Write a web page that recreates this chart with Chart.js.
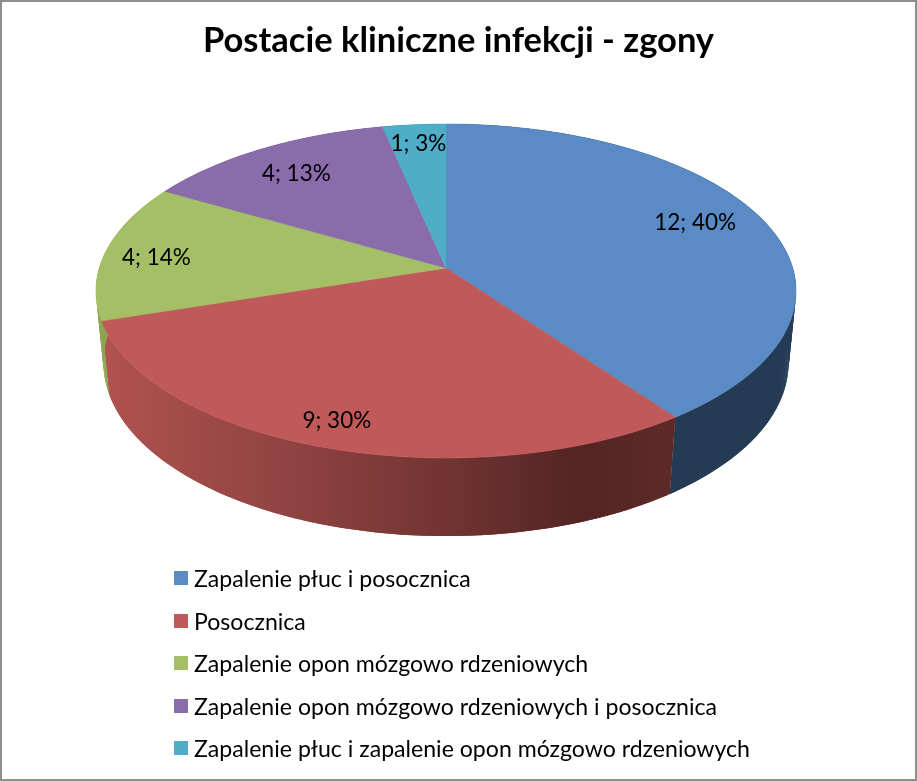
<!DOCTYPE html>
<html lang="pl">
<head>
<meta charset="utf-8">
<title>Postacie kliniczne infekcji - zgony</title>
<script src="https://cdn.jsdelivr.net/npm/chart.js@4"></script>
<style>
    html, body { margin: 0; padding: 0; background: #fff; }
    #wrap { position: relative; width: 917px; height: 781px; overflow: hidden; box-shadow: inset 0 0 0 2px #8e8e8e; }
    #chart { position: absolute; left: 0; top: 0; }
    #legend { position: absolute; left: 174px; top: 557px; margin: 0; padding: 0; list-style: none; font: 23.1px Lato, sans-serif; color: #000; }
    #legend li { display: flex; align-items: center; height: 42.5px; white-space: nowrap; }
    #legend i { width: 14px; height: 14px; margin-right: 6px; flex: none; }
</style>
</head>
<body>
<div id="wrap">
    <canvas id="chart" width="917" height="781"></canvas>
    <ul id="legend"></ul>
</div>
<script>
const titleText = 'Postacie kliniczne infekcji - zgony';
const categories = [
    'Zapalenie płuc i posocznica',
    'Posocznica',
    'Zapalenie opon mózgowo rdzeniowych',
    'Zapalenie opon mózgowo rdzeniowych i posocznica',
    'Zapalenie płuc i zapalenie opon mózgowo rdzeniowych'
];
const deaths = [12, 9, 4, 4, 1];
const percents = [40, 30, 14, 13, 3];

const topColors = ['#5b8bc4', '#c0595a', '#a4bf66', '#8a6cab', '#4fadc8'];
const wallStops = [
    [[0, '#243a55'], [1, '#243a55']],
    [[0, '#b0524f'], [0.35, '#8d4240'], [0.62, '#6f3331'], [0.84, '#532422'], [1, '#5e2a27']],
    [[0, '#8ba550'], [1, '#8ba550']],
    [[0, '#6a5285'], [1, '#6a5285']],
    [[0, '#3b8499'], [1, '#3b8499']]
];

// the office 3d pie has real perspective, so project the library's arc angles by hand
const view = { x: 446, y: 268, ax: 346.7, ay: 126.9, c: -0.1377, e: 0.0214, depth: 78.8 };
const labelRadius = [0.8, 0.87, 0.85, 0.8, 0.85];
const labelNudge = [[-6, -6], [-4, 0], [0, 4], [0, 3], [0, 0]];

function project(angle, r, w) {
    const u = Math.cos(angle) * r;
    const v = Math.sin(angle) * r;
    const d = 1 + view.c * v + view.e * w;
    return {
        x: view.x + view.ax * u / d,
        y: (view.y + view.ay * v + view.depth * w) / d
    };
}

function tracePoints(ctx, pts) {
    ctx.beginPath();
    pts.forEach((p, i) => i ? ctx.lineTo(p.x, p.y) : ctx.moveTo(p.x, p.y));
    ctx.closePath();
}

function rim(start, end, w) {
    const steps = Math.max(2, Math.ceil((end - start) / 0.01));
    const pts = [];
    for (let i = 0; i <= steps; i++) {
        pts.push(project(start + (end - start) * i / steps, 1, w));
    }
    return pts;
}

const pie3d = {
    id: 'pie3d',
    beforeDatasetsDraw(chart) {
        const ctx = chart.ctx;
        const arcs = chart.getDatasetMeta(0).data;

        // walls first as overlapping strips, so the silhouette follows the tangent between the two rims
        arcs.forEach((arc, i) => {
            const upper = rim(arc.startAngle, arc.endAngle, 0);
            const lower = rim(arc.startAngle, arc.endAngle, 1);
            const grad = ctx.createLinearGradient(105, 0, 672, 0);
            wallStops[i].forEach(s => grad.addColorStop(s[0], s[1]));
            ctx.fillStyle = grad;
            for (let k = 0; k < upper.length - 1; k++) {
                const n = Math.min(k + 2, upper.length - 1);
                tracePoints(ctx, [upper[k], upper[n], lower[n], lower[k]]);
                ctx.fill();
            }
        });

        arcs.forEach((arc, i) => {
            const pts = rim(arc.startAngle, arc.endAngle, 0);
            pts.push(project(0, 0, 0));
            tracePoints(ctx, pts);
            ctx.fillStyle = topColors[i];
            ctx.strokeStyle = topColors[i];
            ctx.lineWidth = 0.6;
            ctx.fill();
            ctx.stroke();
        });

        ctx.font = '22.5px Lato, sans-serif';
        ctx.fillStyle = '#000';
        ctx.textAlign = 'center';
        ctx.textBaseline = 'middle';
        arcs.forEach((arc, i) => {
            const p = project((arc.startAngle + arc.endAngle) / 2, labelRadius[i], 0);
            ctx.fillText(deaths[i] + '; ' + percents[i] + '%', p.x + labelNudge[i][0], p.y + labelNudge[i][1]);
        });

        return false;
    }
};

const chart = new Chart(document.getElementById('chart'), {
    type: 'pie',
    data: {
        labels: categories,
        datasets: [{ data: deaths, backgroundColor: topColors, borderWidth: 0 }]
    },
    options: {
        responsive: false,
        animation: false,
        plugins: {
            legend: { display: false },
            tooltip: { enabled: false },
            title: {
                display: true,
                text: titleText,
                color: '#000',
                font: { family: 'Lato, sans-serif', size: 34.5, weight: 'bold' },
                padding: { top: 20, bottom: 10 }
            }
        }
    },
    plugins: [pie3d]
});

document.getElementById('legend').innerHTML = categories.map((name, i) =>
    '<li><i style="background:' + topColors[i] + '"></i>' + name + '</li>'
).join('');
</script>
</body>
</html>
